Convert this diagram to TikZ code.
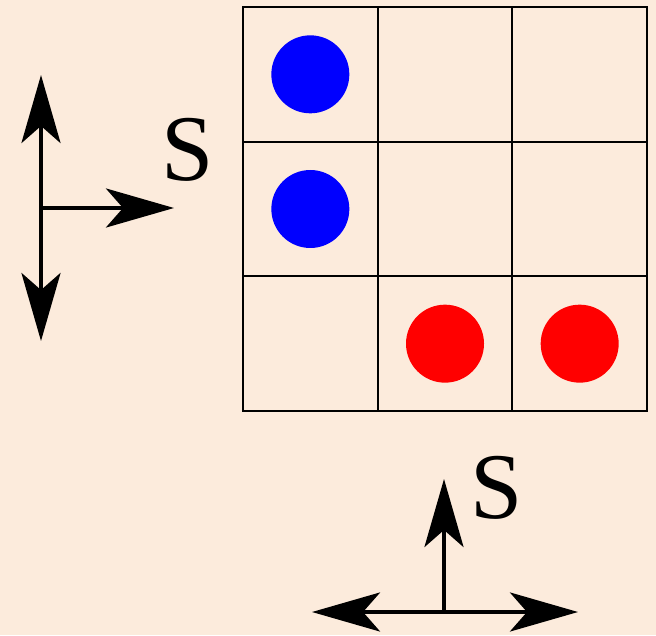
\documentclass[tikz,border=0pt]{standalone}
\usepackage{fontspec}
\setmainfont{Liberation Serif}
\usetikzlibrary{arrows.meta}
\definecolor{peach}{RGB}{252,235,220}
\definecolor{dotblue}{RGB}{0,0,255}
\definecolor{dotred}{RGB}{255,0,0}

\begin{document}
\begin{tikzpicture}[x=0.5pt,y=-0.5pt,
    every node/.style={inner sep=0pt,outer sep=0pt},
    cell/.style={draw=black,line width=1pt,minimum size=67.33pt},
    dot/.style={circle,minimum size=39pt},
    spin/.style={line width=2pt,{Stealth[length=34pt,width=19.5pt,inset=8.5pt]}-{Stealth[length=34pt,width=19.5pt,inset=8.5pt]}},
    push/.style={line width=2pt,-{Stealth[length=34pt,width=19.5pt,inset=8.5pt]}},
    lbl/.style={font=\fontsize{47}{50}\selectfont}]
    \fill[peach] (0,0) rectangle (656,635);
    \useasboundingbox (0,0) rectangle (656,635);
    % 3x3 grid
    \foreach \r in {1,2,3}{
      \foreach \c in {1,2,3}{
        \node[cell] (c-\r-\c) at ({243+67.33+134.67*(\c-1)},{7+67.33+134.67*(\r-1)}) {};
      }
    }
    \node[dot,fill=dotblue] (b1) at (c-1-1) {};
    \node[dot,fill=dotblue] (b2) at (c-2-1) {};
    \node[dot,fill=dotred] (r1) at (c-3-2) {};
    \node[dot,fill=dotred] (r2) at (c-3-3) {};
    % left arrows
    \coordinate (lt) at (41,75);
    \coordinate (lb) at (41,341);
    \coordinate (lo) at (41,208);
    \coordinate (lr) at (174,208);
    \draw[spin] (lt) -- (lb);
    \draw[push] (lo) -- (lr);
    \node[lbl] (ls) at (188,150) {S};
    % bottom arrows
    \coordinate (bl) at (312,612);
    \coordinate (br) at (578,612);
    \coordinate (bo) at (444,612);
    \coordinate (bt) at (444,479);
    \draw[spin] (bl) -- (br);
    \draw[push] (bo) -- (bt);
    \node[lbl] (bs) at (497,488) {S};
\end{tikzpicture}
\end{document}
